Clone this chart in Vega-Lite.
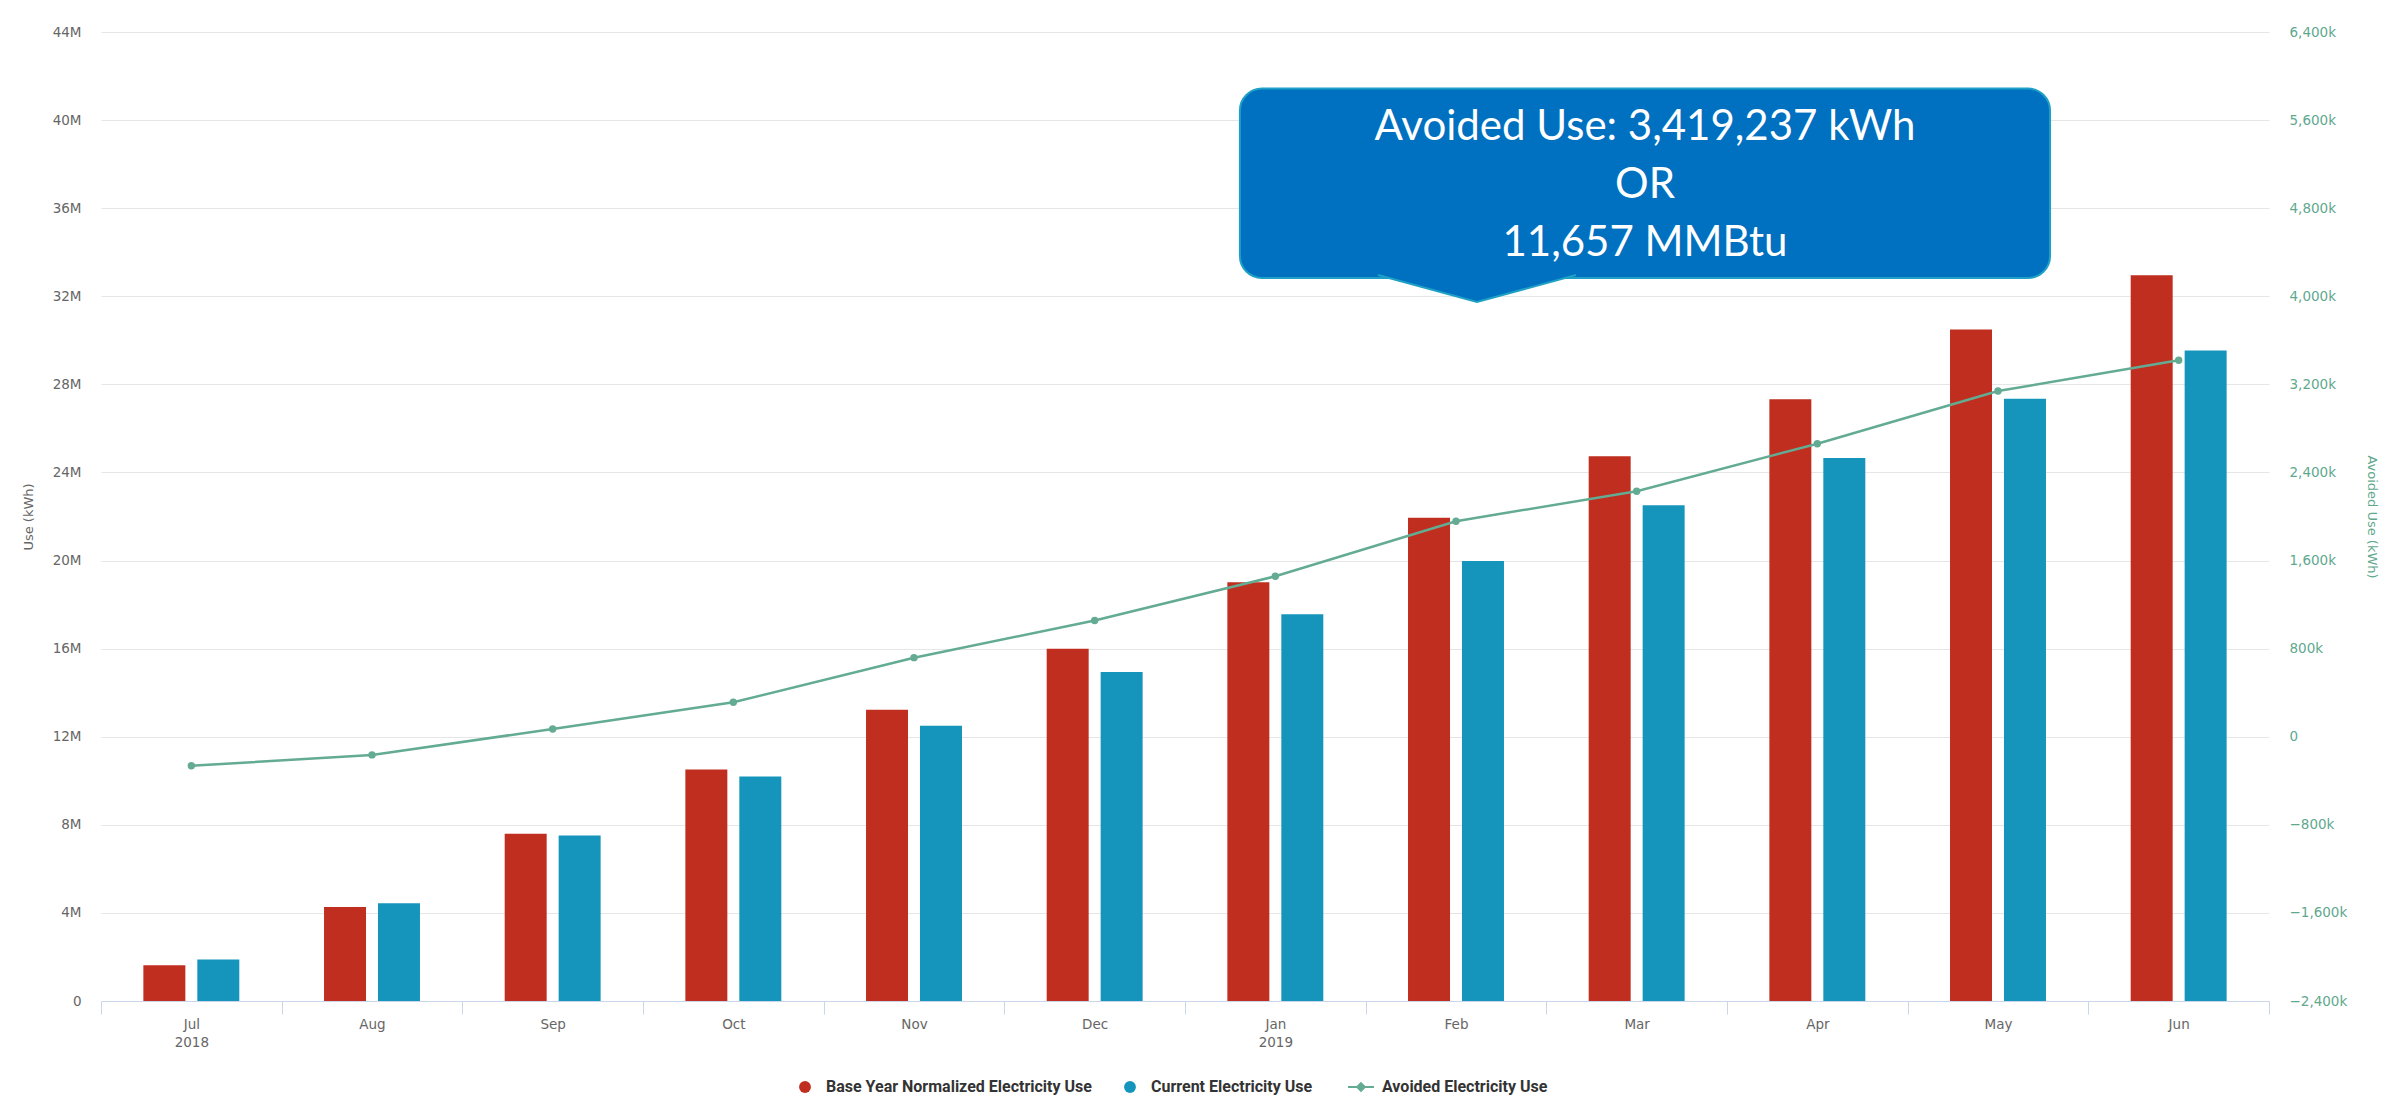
{
  "$schema": "https://vega.github.io/schema/vega-lite/v6.json",
  "width": 2168,
  "height": 969,
  "autosize": {"type": "none"},
  "padding": {"left": 101, "top": 32, "right": 138, "bottom": 109},
  "background": "white",
  "datasets": {
    "usage": [
      {"month": "Jul 2018", "series": "Base Year Normalized Electricity Use", "kwh": 1620000},
      {"month": "Jul 2018", "series": "Current Electricity Use", "kwh": 1884000},
      {"month": "Aug 2018", "series": "Base Year Normalized Electricity Use", "kwh": 4270000},
      {"month": "Aug 2018", "series": "Current Electricity Use", "kwh": 4435000},
      {"month": "Sep 2018", "series": "Base Year Normalized Electricity Use", "kwh": 7590000},
      {"month": "Sep 2018", "series": "Current Electricity Use", "kwh": 7520000},
      {"month": "Oct 2018", "series": "Base Year Normalized Electricity Use", "kwh": 10510000},
      {"month": "Oct 2018", "series": "Current Electricity Use", "kwh": 10197000},
      {"month": "Nov 2018", "series": "Base Year Normalized Electricity Use", "kwh": 13220000},
      {"month": "Nov 2018", "series": "Current Electricity Use", "kwh": 12502000},
      {"month": "Dec 2018", "series": "Base Year Normalized Electricity Use", "kwh": 15990000},
      {"month": "Dec 2018", "series": "Current Electricity Use", "kwh": 14935000},
      {"month": "Jan 2019", "series": "Base Year Normalized Electricity Use", "kwh": 19020000},
      {"month": "Jan 2019", "series": "Current Electricity Use", "kwh": 17563000},
      {"month": "Feb 2019", "series": "Base Year Normalized Electricity Use", "kwh": 21940000},
      {"month": "Feb 2019", "series": "Current Electricity Use", "kwh": 19983000},
      {"month": "Mar 2019", "series": "Base Year Normalized Electricity Use", "kwh": 24740000},
      {"month": "Mar 2019", "series": "Current Electricity Use", "kwh": 22510000},
      {"month": "Apr 2019", "series": "Base Year Normalized Electricity Use", "kwh": 27320000},
      {"month": "Apr 2019", "series": "Current Electricity Use", "kwh": 24659000},
      {"month": "May 2019", "series": "Base Year Normalized Electricity Use", "kwh": 30490000},
      {"month": "May 2019", "series": "Current Electricity Use", "kwh": 27351000},
      {"month": "Jun 2019", "series": "Base Year Normalized Electricity Use", "kwh": 32960000},
      {"month": "Jun 2019", "series": "Current Electricity Use", "kwh": 29541000}
    ],
    "avoided": [
      {"month": "Jul 2018", "kwh": -264000},
      {"month": "Aug 2018", "kwh": -165000},
      {"month": "Sep 2018", "kwh": 70000},
      {"month": "Oct 2018", "kwh": 313000},
      {"month": "Nov 2018", "kwh": 718000},
      {"month": "Dec 2018", "kwh": 1055000},
      {"month": "Jan 2019", "kwh": 1457000},
      {"month": "Feb 2019", "kwh": 1957000},
      {"month": "Mar 2019", "kwh": 2230000},
      {"month": "Apr 2019", "kwh": 2661000},
      {"month": "May 2019", "kwh": 3139000},
      {"month": "Jun 2019", "kwh": 3419237}
    ]
  },
  "config": {
    "view": {"stroke": null},
    "axis": {
      "labelFont": "DejaVu Sans",
      "labelFontSize": 13.5,
      "labelColor": "#666666",
      "titleFont": "DejaVu Sans",
      "titleFontSize": 13,
      "titleFontWeight": "normal",
      "titleColor": "#666666"
    }
  },
  "layer": [
    {
      "data": {"name": "usage"},
      "mark": {"type": "bar"},
      "encoding": {
        "x": {
          "field": "month",
          "type": "nominal",
          "sort": ["Jul 2018", "Aug 2018", "Sep 2018", "Oct 2018", "Nov 2018", "Dec 2018", "Jan 2019", "Feb 2019", "Mar 2019", "Apr 2019", "May 2019", "Jun 2019"],
          "scale": {"type": "band", "paddingInner": 0, "paddingOuter": 0},
          "axis": {
            "title": null,
            "labelAngle": 0,
            "tickBand": "extent",
            "tickSize": 13,
            "tickColor": "#ccd6eb",
            "domainColor": "#ccd6eb",
            "labelPadding": 3,
            "labelLineHeight": 18,
            "grid": false,
            "labelExpr": "!isString(datum.value) ? '' : (indexof(['Jul 2018', 'Jan 2019'], datum.value) >= 0 ? split(datum.value, ' ') : split(datum.value, ' ')[0])"
          }
        },
        "xOffset": {
          "field": "series",
          "type": "nominal",
          "sort": ["Base Year Normalized Electricity Use", "Current Electricity Use"],
          "scale": {"paddingInner": 0.222, "paddingOuter": 0.785}
        },
        "y": {
          "field": "kwh",
          "type": "quantitative",
          "scale": {"domain": [0, 44000000], "nice": false},
          "axis": {
            "title": "Use (kWh)",
            "values": [0, 4000000, 8000000, 12000000, 16000000, 20000000, 24000000, 28000000, 32000000, 36000000, 40000000, 44000000],
            "labelExpr": "datum.value == 0 ? '0' : (datum.value / 1000000) + 'M'",
            "ticks": false,
            "domain": false,
            "grid": true,
            "gridColor": "#e6e6e6",
            "labelPadding": 20,
            "titlePadding": 17
          }
        },
        "color": {
          "field": "series",
          "type": "nominal",
          "scale": {
            "domain": ["Base Year Normalized Electricity Use", "Current Electricity Use", "Avoided Electricity Use"],
            "range": ["#bf2e1f", "#1595bb", "#63ab93"]
          },
          "legend": {
            "orient": "none",
            "legendX": 696,
            "legendY": 1047,
            "direction": "horizontal",
            "title": null,
            "labelFont": "Liberation Sans Narrow, Roboto, sans-serif",
            "labelFontWeight": "bold",
            "labelFontSize": 16,
            "labelColor": "#333333",
            "labelLimit": 400,
            "labelOffset": 13,
            "columnPadding": 30,
            "symbolSize": 140,
            "encode": {
              "symbols": {
                "update": {
                  "shape": {"signal": "datum.label === 'Avoided Electricity Use' ? 'M-2.2,0L2.2,0M0,-0.65L0.65,0L0,0.65L-0.65,0Z' : 'circle'"},
                  "stroke": {"signal": "scale('color', datum.value)"},
                  "strokeWidth": {"signal": "datum.label === 'Avoided Electricity Use' ? 2 : 0"},
                  "opacity": {"value": 1}
                }
              }
            }
          }
        }
      }
    },
    {
      "data": {"name": "avoided"},
      "encoding": {
        "x": {
          "field": "month",
          "type": "nominal",
          "sort": ["Jul 2018", "Aug 2018", "Sep 2018", "Oct 2018", "Nov 2018", "Dec 2018", "Jan 2019", "Feb 2019", "Mar 2019", "Apr 2019", "May 2019", "Jun 2019"],
          "scale": {"type": "band", "paddingInner": 0, "paddingOuter": 0},
          "axis": null
        },
        "y": {
          "field": "kwh",
          "type": "quantitative",
          "scale": {"domain": [-2400000, 6400000], "nice": false, "zero": false},
          "axis": {
            "orient": "right",
            "title": "Avoided Use (kWh)",
            "values": [-2400000, -1600000, -800000, 0, 800000, 1600000, 2400000, 3200000, 4000000, 4800000, 5600000, 6400000],
            "labelExpr": "datum.value == 0 ? '0' : format(datum.value / 1000, ',') + 'k'",
            "labelColor": "#5fa88e",
            "titleColor": "#5fa88e",
            "ticks": false,
            "domain": false,
            "grid": false,
            "labelPadding": 20,
            "titlePadding": 18
          }
        },
        "color": {"datum": "Avoided Electricity Use", "type": "nominal"}
      },
      "layer": [
        {"mark": {"type": "line", "strokeWidth": 2.5}},
        {"mark": {"type": "point", "filled": true, "opacity": 1, "size": 55, "shape": "circle"}}
      ]
    },
    {
      "data": {"values": [{"note": "avoided use callout"}]},
      "encoding": {
        "x": {"datum": 6.304, "type": "quantitative", "scale": {"domain": [0, 12], "nice": false, "zero": false}, "axis": null},
        "y": {"datum": 41.43, "type": "quantitative", "scale": {"domain": [0, 44], "nice": false, "zero": false}, "axis": null}
      },
      "layer": [
        {
          "mark": {"type": "rect", "fill": "#0070c0", "stroke": "#1fa0c6", "strokeWidth": 2, "cornerRadius": 22},
          "encoding": {
            "x2": {"datum": 10.788},
            "y2": {"datum": 32.83}
          }
        },
        {
          "mark": {
            "type": "point",
            "shape": "M-0.99,-0.27L0,0L0.99,-0.27",
            "size": 40000,
            "filled": true,
            "fill": "#0070c0",
            "stroke": "#1fa0c6",
            "strokeWidth": 2,
            "opacity": 1
          },
          "encoding": {
            "x": {"datum": 7.616, "type": "quantitative"},
            "y": {"datum": 31.74, "type": "quantitative"}
          }
        },
        {
          "mark": {
            "type": "text",
            "text": ["Avoided Use: 3,419,237 kWh", "OR", "11,657 MMBtu"],
            "font": "Lato",
            "fontSize": 42,
            "lineHeight": 58,
            "color": "white",
            "align": "center",
            "baseline": "middle"
          },
          "encoding": {
            "x": {"datum": 8.546, "type": "quantitative"},
            "y": {"datum": 39.69, "type": "quantitative"}
          }
        }
      ]
    }
  ],
  "resolve": {"scale": {"x": "independent", "y": "independent"}}
}
